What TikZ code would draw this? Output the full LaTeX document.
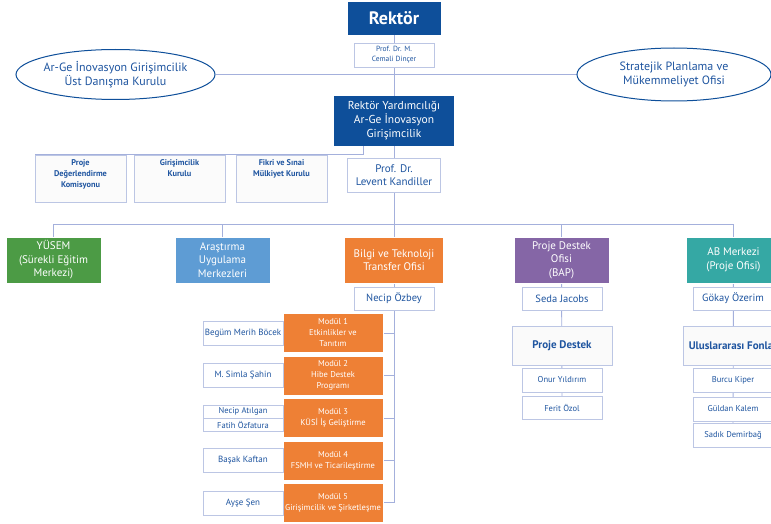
\documentclass[tikz,border=0pt]{standalone}
\usepackage{fontspec}
\setmainfont{PT Sans}
\usetikzlibrary{shapes.geometric,backgrounds}

\definecolor{rkblue}{HTML}{0E4F9A}
\definecolor{txtblue}{HTML}{1F55A0}
\definecolor{linecol}{HTML}{A4B0DC}
\definecolor{boxline}{HTML}{BCC6E4}
\definecolor{ysgreen}{HTML}{4C9B45}
\definecolor{arblue}{HTML}{5E9CD4}
\definecolor{btorange}{HTML}{EE8035}
\definecolor{bappurple}{HTML}{8566A6}
\definecolor{abteal}{HTML}{35A8A4}

% ust hizali kurul metni
\newcommand{\kurultext}[1]{\parbox[c][41pt][t]{85pt}{\vspace*{2pt}\centering #1}}

\tikzset{
  wh/.style 2 args={minimum width=#1,minimum height=#2},
  dark/.style={fill=rkblue,text=white,align=center,inner sep=1pt},
  box/.style={draw=boxline,fill=white,text=txtblue,align=center,inner sep=1pt},
  oval/.style={ellipse,draw=rkblue,line width=1pt,fill=white},
  lbl/.style={text=txtblue,align=center,font=\fontsize{12}{14}\selectfont},
  kurul/.style={draw=boxline,fill=gray!3,text=txtblue,inner sep=3pt,
    wh={87}{47},font=\bfseries\fontsize{8.3}{10.8}\selectfont},
  level/.style={draw=white,line width=0.6pt,text=white,align=center,wh={95}{46},
    inner sep=1pt,font=\fontsize{11}{13.5}\selectfont},
  kisi/.style={box,wh={80}{23},font=\fontsize{10.5}{12}\selectfont},
  uye/.style={box,wh={80}{24},font=\fontsize{8.5}{10}\selectfont},
  birim/.style={draw=boxline,fill=gray!4,text=txtblue,wh={100}{39},
    font=\bfseries\fontsize{11}{12}\selectfont},
  modul/.style={fill=btorange,draw=white,line width=0.8pt,text=white,align=center,
    wh={100}{39},inner sep=1pt,font=\fontsize{8.5}{11}\selectfont},
  hat/.style={draw=linecol,line width=0.9pt}
}

\begin{document}
\begin{tikzpicture}[x=1pt,y=-1pt]
  \useasboundingbox (0,0) rectangle (771,524);
  \clip (0,0) rectangle (771,524);

  % Rektorluk
  \node[dark,wh={93}{33},font=\bfseries\fontsize{18}{20}\selectfont] (rektor) at (394,18.5) {Rektör};
  \node[box,wh={80}{24},font=\fontsize{7.5}{10}\selectfont] (dincer) at (394,55) {Prof. Dr. M.\\Cemali Dinçer};
  \node[oval,wh={199}{50},label={[lbl]center:{Ar-Ge İnovasyon Girişimcilik\\Üst Danışma Kurulu}}] (danisma) at (115.5,74.5) {};
  \node[oval,wh={194}{53},label={[lbl]center:{Stratejik Planlama ve\\Mükemmeliyet Ofisi}}] (stratejik) at (674,74.5) {};

  % Rektor Yardimciligi
  \node[dark,wh={120}{50},font=\fontsize{11.5}{14}\selectfont] (ryard) at (394,121) {Rektör Yardımcılığı\\Ar-Ge İnovasyon\\Girişimcilik};
  \node[box,wh={93}{34},font=\fontsize{11}{12.5}\selectfont] (kandiller) at (394,175) {Prof. Dr.\\Levent Kandiller};

  \node[kurul] (komisyon) at (80.5,178.5) {\kurultext{Proje\\Değerlendirme\\Komisyonu}};
  \node[kurul] (girisim) at (179.5,178.5) {\kurultext{Girişimcilik\\Kurulu}};
  \node[kurul] (fikri) at (281.5,178.5) {\kurultext{Fikri ve Sınai\\Mülkiyet Kurulu}};

  % Birimler
  \coordinate (bus) at (0,224);
  \node[level,fill=ysgreen] (yusem) at (53.5,260) {YÜSEM\\(Sürekli Eğitim\\Merkezi)};
  \node[level,fill=arblue] (arastirma) at (222.5,260) {Araştırma\\Uygulama\\Merkezleri};
  \node[level,fill=btorange,minimum width=99] (bilgi) at (394,260) {Bilgi ve Teknoloji\\Transfer Ofisi};
  \node[level,fill=bappurple] (bap) at (561.5,260) {Proje Destek\\Ofisi\\(BAP)};
  \node[level,fill=abteal] (abm) at (733.5,260) {AB Merkezi\\(Proje Ofisi)};

  \node[kisi] (necip) at (394,298.5) {Necip Özbey};
  \node[kisi] (seda) at (562,298.5) {Seda Jacobs};
  \node[kisi] (gokay) at (733,298.5) {Gökay Özerim};

  % BAP ve AB alt birimleri
  \node[birim] (projedestek) at (562,345.5) {Proje Destek};
  \node[birim] (fonlar) at (733,345.5) {Uluslararası Fonlar};
  \node[uye] (onur) at (562,380) {Onur Yıldırım};
  \node[uye,minimum height=23] (ferit) at (562,407.5) {Ferit Özol};
  \node[uye] (burcu) at (733,380) {Burcu Kiper};
  \node[uye] (guldan) at (733,409) {Güldan Kalem};
  \node[uye] (sadik) at (733,435) {Sadık Demirbağ};

  % TTO modulleri
  \node[modul] (m1) at (333,333) {Modül 1\\Etkinlikler ve\\Tanıtım};
  \node[modul] (m2) at (333,375.5) {Modül 2\\Hibe Destek\\Programı};
  \node[modul] (m3) at (333,418) {Modül 3\\KÜSİ İş Geliştirme};
  \node[modul] (m4) at (333,460.5) {Modül 4\\FSMH ve Ticarileştirme};
  \node[modul] (m5) at (333,502.5) {Modül 5\\Girişimcilik ve Şirketleşme};

  \node[uye,font=\fontsize{9}{10}\selectfont] (begum) at (243,333) {Begüm Merih Böcek};
  \node[uye,font=\fontsize{9}{10}\selectfont] (simla) at (243,375) {M. Simla Şahin};
  \node[uye,minimum height=13] (atilgan) at (243,411.5) {Necip Atılgan};
  \node[uye,minimum height=13] (ozfatura) at (243,424.5) {Fatih Özfatura};
  \node[uye,font=\fontsize{9}{10}\selectfont] (basak) at (243,460) {Başak Kaftan};
  \node[uye,font=\fontsize{9}{10}\selectfont] (ayse) at (243,503) {Ayşe Şen};

  % Baglantilar
  \begin{pgfonlayer}{background}
    \draw[hat] (rektor) -- (ryard);
    \draw[hat] (danisma.east) -- (stratejik.west);
    \draw[hat] ([xshift=-31pt]ryard.south) |- (komisyon.north west);
    \draw[hat] (ryard) -- (bilgi);
    \draw[hat] (yusem.north) -- (yusem.north |- bus) -| (abm.north);
    \draw[hat] (arastirma.north) -- (arastirma.north |- bus);
    \draw[hat] (bap.north) -- (bap.north |- bus);
    \draw[hat] (bap) -- (ferit);
    \draw[hat] (abm) -- (sadik);
    \coordinate (spine) at (bilgi.south |- m5.east);
    \draw[hat] (bilgi) -- (spine);
    \foreach \m in {m1,m2,m3,m4,m5}
      \draw[hat] (\m.east) -- (\m.east -| spine);
  \end{pgfonlayer}
\end{tikzpicture}
\end{document}
